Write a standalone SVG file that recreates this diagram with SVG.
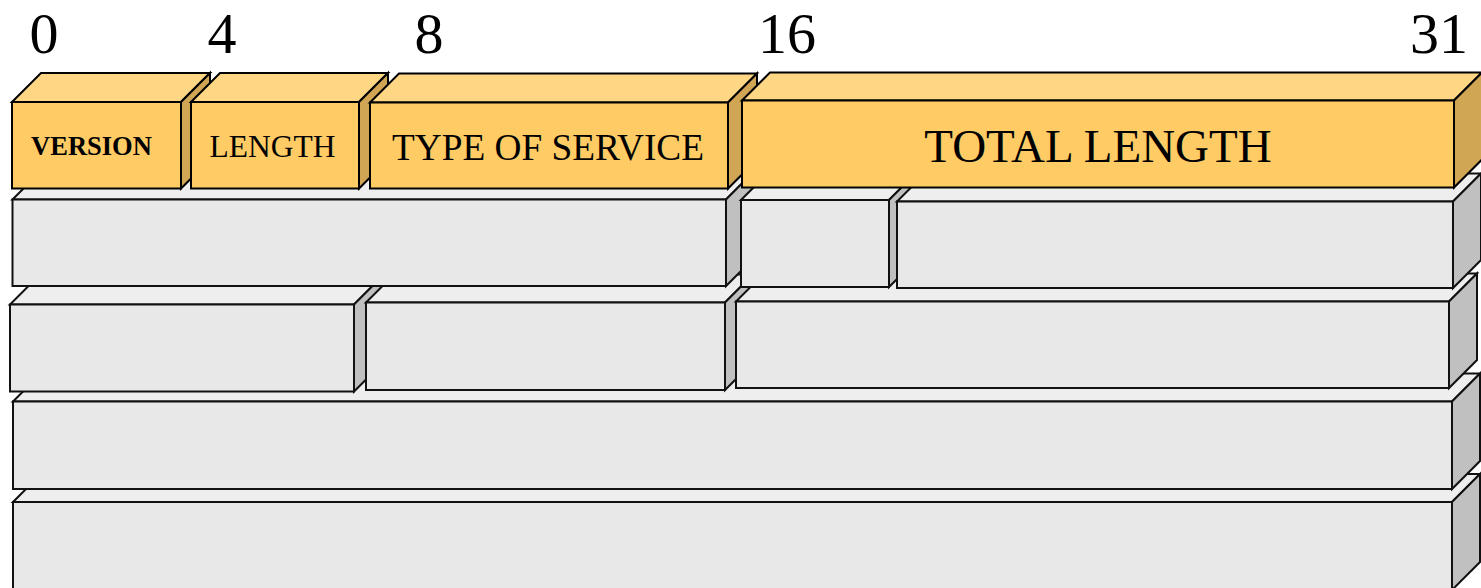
<svg xmlns="http://www.w3.org/2000/svg" width="1481" height="588" viewBox="0 0 1481 588">
<style>
.of{fill:#FECB65;stroke:#000;stroke-width:2}
.ot{fill:#FED684;stroke:#000;stroke-width:2}
.os{fill:#D0A553;stroke:#000;stroke-width:2}
.gf{fill:#E8E8E8;stroke:#111;stroke-width:2}
.gt{fill:#EEEEEE;stroke:#111;stroke-width:2}
.gs{fill:#C0C0C0;stroke:#111;stroke-width:2}
text{font-family:"Liberation Serif","Times New Roman",serif;fill:#000;text-anchor:middle}
.num{font-size:58px}
</style>
<rect width="1481" height="588" fill="#fff"/>
<g id="bit-labels">
<text class="num" x="44" y="53">0</text>
<text class="num" x="222" y="53">4</text>
<text class="num" x="429" y="53">8</text>
<text class="num" x="787" y="53">16</text>
<text class="num" x="1439" y="53">31</text>
</g>
<!-- row 5 -->
<g id="row5">
<polygon class="gt" points="13,502 41,474 1480,474 1452,502"/>
<polygon class="gs" points="1452,502 1480,474 1480,562 1452,590"/>
<rect class="gf" x="13" y="502" width="1439" height="88"/>
</g>
<!-- row 4 -->
<g id="row4">
<polygon class="gt" points="13,401.5 41,373.5 1480,373.5 1452,401.5"/>
<polygon class="gs" points="1452,401.5 1480,373.5 1480,461 1452,489"/>
<rect class="gf" x="13" y="401.5" width="1439" height="87.5"/>
</g>
<!-- row 3 -->
<g id="row3-a">
<polygon class="gt" points="10,304.5 38,276.5 382,276.5 354,304.5"/>
<polygon class="gs" points="354,304.5 382,276.5 382,363.5 354,391.5"/>
<rect class="gf" x="10" y="304.5" width="344" height="87"/>
</g>
<g id="row3-b">
<polygon class="gt" points="366,302.5 394,274.5 753,274.5 725,302.5"/>
<polygon class="gs" points="725,302.5 753,274.5 753,362 725,390"/>
<rect class="gf" x="366" y="302.5" width="359" height="87.5"/>
</g>
<g id="row3-c">
<polygon class="gt" points="736,301.5 764,273.5 1477,273.5 1449,301.5"/>
<polygon class="gs" points="1449,301.5 1477,273.5 1477,360 1449,388"/>
<rect class="gf" x="736" y="301.5" width="713" height="86.5"/>
</g>
<!-- row 2 -->
<g id="row2-a">
<polygon class="gt" points="12.5,199.5 40.5,171.5 754,171.5 726,199.5"/>
<polygon class="gs" points="726,199.5 754,171.5 754,258 726,286"/>
<rect class="gf" x="12.5" y="199.5" width="713.5" height="86.5"/>
</g>
<g id="row2-b">
<polygon class="gt" points="741,200 769,172 917,172 889,200"/>
<polygon class="gs" points="889,200 917,172 917,259 889,287"/>
<rect class="gf" x="741" y="200" width="148" height="87"/>
</g>
<g id="row2-c">
<polygon class="gt" points="897,201.5 925,173.5 1481,173.5 1453,201.5"/>
<polygon class="gs" points="1453,201.5 1481,173.5 1481,260 1453,288"/>
<rect class="gf" x="897" y="201.5" width="556" height="86.5"/>
</g>
<!-- row 1 -->
<g id="version">
<polygon class="ot" points="12,102 41,73 210,73 181,102"/>
<polygon class="os" points="181,102 210,73 210,159.5 181,188.5"/>
<rect class="of" x="12" y="102" width="169" height="86.5"/>
<text x="91.5" y="155" font-size="26.5" font-weight="bold">VERSION</text>
</g>
<g id="length">
<polygon class="ot" points="191,102 220,73 388,73 359,102"/>
<polygon class="os" points="359,102 388,73 388,159.5 359,188.5"/>
<rect class="of" x="191" y="102" width="168" height="86.5"/>
<text x="272.5" y="157" font-size="31.5">LENGTH</text>
</g>
<g id="type-of-service">
<polygon class="ot" points="370,102.5 399,73.5 757,73.5 728,102.5"/>
<polygon class="os" points="728,102.5 757,73.5 757,159.5 728,188.5"/>
<rect class="of" x="370" y="102.5" width="358" height="86"/>
<text x="548" y="160" font-size="37.3">TYPE OF SERVICE</text>
</g>
<g id="total-length">
<polygon class="ot" points="742,100.5 770,72.5 1482,72.5 1454,100.5"/>
<polygon class="os" points="1454,100.5 1482,72.5 1482,159.5 1454,187.5"/>
<rect class="of" x="742" y="100.5" width="712" height="87"/>
<text x="1098" y="162" font-size="47">TOTAL LENGTH</text>
</g>
</svg>
